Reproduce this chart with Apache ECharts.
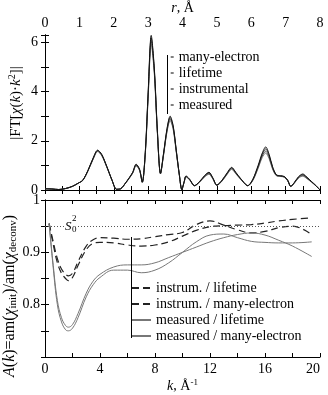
<!DOCTYPE html>
<html>
<head>
<meta charset="utf-8">
<script src="https://cdn.jsdelivr.net/npm/echarts@6/dist/echarts.min.js"></script>
<style>
  html, body { margin: 0; padding: 0; background: #fff; }
  #chart { width: 328px; height: 395px; }
</style>
</head>
<body>
<div id="chart"></div>
<script>
  // top panel: |FT[chi(k) k^2]| vs r
  var rVals = [0, 0.2, 0.4, 0.6, 0.8, 0.97, 1.1, 1.25, 1.4, 1.53, 1.65, 1.8, 1.95, 2.08, 2.2, 2.35, 2.45, 2.55, 2.65, 2.75,
    2.83, 2.92, 3.0, 3.09, 3.18, 3.27, 3.36, 3.45, 3.55, 3.64, 3.73, 3.82, 3.91, 3.98, 4.05, 4.1, 4.2, 4.35, 4.5, 4.65,
    4.77, 4.88, 5.0, 5.15, 5.3, 5.43, 5.55, 5.7, 5.9, 6.05, 6.2, 6.32, 6.42, 6.52, 6.62, 6.73, 6.85, 6.96, 7.06, 7.15,
    7.25, 7.38, 7.5, 7.62, 7.75, 7.88, 8.0]
  var ftManyElectron = [0.05, 0.04, 0.02, 0.06, 0.15, 0.28, 0.4, 0.8, 1.3, 1.62, 1.45, 0.95, 0.4, 0.03, 0.05, 0.3, 0.5, 0.72, 1.05, 0.85,
    0.32, 1.6, 3.95, 6.28, 4.95, 2.4, 0.68, 1.5, 2.5, 3.0, 2.6, 1.6, 0.6, 0.02, 0.35, 0.57, 0.45, 0.18, 0.35, 0.6,
    0.72, 0.5, 0.2, 0.4, 0.7, 0.92, 0.72, 0.45, 0.18, 0.45, 1.0, 1.5, 1.75, 1.45, 0.95, 0.62, 0.58, 0.55, 0.4, 0.15,
    0.3, 0.55, 0.65, 0.52, 0.35, 0.18, 0.0]
  var ftLifetime = [0.05, 0.04, 0.02, 0.06, 0.15, 0.28, 0.4, 0.79, 1.28, 1.6, 1.43, 0.94, 0.4, 0.03, 0.05, 0.3, 0.49, 0.7, 1.02, 0.83,
    0.32, 1.57, 3.88, 6.18, 4.88, 2.36, 0.67, 1.48, 2.46, 2.95, 2.56, 1.58, 0.6, 0.02, 0.34, 0.56, 0.44, 0.18, 0.34, 0.58,
    0.7, 0.49, 0.2, 0.39, 0.68, 0.9, 0.7, 0.44, 0.18, 0.43, 0.96, 1.44, 1.67, 1.39, 0.91, 0.61, 0.57, 0.54, 0.39, 0.15,
    0.29, 0.53, 0.62, 0.5, 0.34, 0.18, 0.0]
  var ftInstrumental = [0.05, 0.04, 0.02, 0.06, 0.15, 0.28, 0.39, 0.78, 1.26, 1.58, 1.41, 0.93, 0.39, 0.03, 0.05, 0.29, 0.48, 0.69, 1.0, 0.81,
    0.31, 1.54, 3.8, 6.05, 4.8, 2.32, 0.66, 1.45, 2.41, 2.88, 2.5, 1.55, 0.59, 0.02, 0.33, 0.54, 0.43, 0.17, 0.33, 0.56,
    0.67, 0.47, 0.19, 0.37, 0.66, 0.87, 0.68, 0.43, 0.17, 0.41, 0.92, 1.38, 1.58, 1.33, 0.88, 0.59, 0.56, 0.53, 0.38, 0.14,
    0.28, 0.51, 0.59, 0.48, 0.33, 0.17, 0.0]
  var ftMeasured = [0.05, 0.04, 0.02, 0.06, 0.15, 0.28, 0.39, 0.77, 1.25, 1.56, 1.4, 0.92, 0.39, 0.03, 0.05, 0.29, 0.47, 0.68, 0.98, 0.8,
    0.31, 1.5, 3.72, 5.92, 4.72, 2.28, 0.65, 1.42, 2.37, 2.82, 2.45, 1.52, 0.58, 0.02, 0.32, 0.53, 0.42, 0.17, 0.32, 0.54,
    0.64, 0.45, 0.19, 0.36, 0.64, 0.84, 0.66, 0.42, 0.17, 0.4, 0.88, 1.32, 1.5, 1.27, 0.85, 0.58, 0.55, 0.52, 0.37, 0.14,
    0.27, 0.49, 0.56, 0.46, 0.32, 0.17, 0.0]
  var topNames = ['many-electron', 'lifetime', 'instrumental', 'measured']

  // bottom panel: A(k) ratios vs k
  var kVals = [0.3, 0.6, 0.9, 1.2, 1.5, 1.7, 2.0, 2.4, 3.0, 3.5, 4, 5, 6, 7, 8, 9, 10, 11, 12, 13, 14, 15, 16, 17, 18, 19.4]
  var instrLifetime = [0.955, 0.915, 0.88, 0.86, 0.85, 0.846, 0.852, 0.875, 0.905, 0.917, 0.919, 0.918, 0.914, 0.912, 0.914, 0.92,
    0.931, 0.942, 0.949, 0.951, 0.952, 0.953, 0.956, 0.96, 0.963, 0.966]
  var instrManyElectron = [0.955, 0.92, 0.888, 0.868, 0.858, 0.855, 0.86, 0.882, 0.912, 0.924, 0.928, 0.927, 0.925, 0.926, 0.93, 0.934,
    0.938, 0.953, 0.96, 0.952, 0.943, 0.937, 0.94, 0.947, 0.95, 0.934]
  var measLifetime = [0.955, 0.875, 0.808, 0.775, 0.76, 0.757, 0.762, 0.783, 0.822, 0.845, 0.858, 0.872, 0.876, 0.876, 0.88, 0.89,
    0.9, 0.91, 0.92, 0.928, 0.934, 0.937, 0.933, 0.923, 0.912, 0.892]
  var measManyElectron = [0.955, 0.87, 0.8, 0.767, 0.752, 0.75, 0.755, 0.775, 0.815, 0.838, 0.852, 0.866, 0.866, 0.861, 0.866, 0.88,
    0.9, 0.92, 0.933, 0.935, 0.928, 0.921, 0.919, 0.918, 0.918, 0.92]
  var bottomNames = ['instrum. / lifetime', 'instrum. / many-electron', 'measured / lifetime', 'measured / many-electron']
  var s0Level = 0.95

  var FONT = 'Liberation Serif'

  function zip(xs, ys) {
    return xs.map(function (x, i) { return [x, ys[i]] })
  }
  function near(a, b) { return Math.abs(a - b) < 1e-6 }

  var chart = echarts.init(document.getElementById('chart'), null, { renderer: 'canvas' })

  var tickStyle = { show: true, inside: true, length: 4, lineStyle: { color: '#000', width: 1 } }
  var lineAxis = { show: true, lineStyle: { color: '#000', width: 1 } }
  var labelStyle = { color: '#000', fontFamily: FONT, fontSize: 14 }

  var topLines = [ftManyElectron, ftLifetime, ftInstrumental, ftMeasured]
  var topColors = ['#111', '#333', '#555', '#777']
  var bottomLines = [instrLifetime, instrManyElectron, measLifetime, measManyElectron]

  var series = []
  topLines.forEach(function (vals, i) {
    series.push({
      name: topNames[i],
      type: 'line',
      xAxisIndex: 0,
      yAxisIndex: 0,
      data: zip(rVals, vals),
      smooth: 0.3,
      symbol: 'none',
      color: topColors[i],
      lineStyle: { color: topColors[i], width: 1 },
      z: 4 - i
    })
  })
  bottomLines.forEach(function (vals, i) {
    var dashed = i < 2
    var col = dashed ? '#222' : '#777'
    var s = {
      name: bottomNames[i],
      type: 'line',
      xAxisIndex: 2,
      yAxisIndex: 2,
      data: zip(kVals, vals),
      smooth: 0.4,
      symbol: 'none',
      color: col,
      lineStyle: dashed
        ? { color: col, width: 1.2, type: [7, 4] }
        : { color: col, width: 1, type: 'solid' }
    }
    if (i === 0) {
      s.markLine = {
        silent: true,
        symbol: 'none',
        label: { show: false },
        lineStyle: { color: '#555', type: [1, 2], width: 1 },
        data: [{ yAxis: s0Level }]
      }
    }
    series.push(s)
  })

  var option = {
    animation: false,
    textStyle: { fontFamily: FONT },
    grid: [
      { left: 45, width: 275, top: 32, height: 158 },
      { left: 45, width: 275, top: 200, height: 158 }
    ],
    xAxis: [
      {
        gridIndex: 0, type: 'value', position: 'top', min: 0, max: 8, interval: 0.5,
        axisLine: lineAxis, axisTick: tickStyle, splitLine: { show: false },
        axisLabel: Object.assign({ margin: 5, formatter: function (v) { return near(v, Math.round(v)) ? String(Math.round(v)) : '' } }, labelStyle),
        name: '{i|r}, Å', nameLocation: 'middle', nameGap: 17,
        nameTextStyle: { color: '#000', fontFamily: FONT, fontSize: 14, rich: { i: { fontStyle: 'italic', fontFamily: FONT, fontSize: 14 } } }
      },
      {
        gridIndex: 0, type: 'value', position: 'bottom', min: 0, max: 8, interval: 0.5,
        axisLine: lineAxis, axisTick: tickStyle, splitLine: { show: false }, axisLabel: { show: false }
      },
      {
        gridIndex: 1, type: 'value', position: 'bottom', min: 0, max: 20, interval: 2,
        axisLine: lineAxis, axisTick: tickStyle, splitLine: { show: false },
        axisLabel: Object.assign({ margin: 5, alignMaxLabel: 'right', formatter: function (v) { return near(v % 4, 0) ? String(v) : '' } }, labelStyle),
        name: '{i|k}, Å{sup|-1}', nameLocation: 'middle', nameGap: 21,
        nameTextStyle: {
          color: '#000', fontFamily: FONT, fontSize: 14, lineHeight: 16,
          rich: {
            i: { fontStyle: 'italic', fontFamily: FONT, fontSize: 14, lineHeight: 16 },
            sup: { fontFamily: FONT, fontSize: 9, lineHeight: 9, verticalAlign: 'top' }
          }
        }
      },
      {
        gridIndex: 1, type: 'value', position: 'top', min: 0, max: 20, interval: 2,
        axisLine: lineAxis, axisTick: tickStyle, splitLine: { show: false }, axisLabel: { show: false }
      }
    ],
    yAxis: [
      {
        gridIndex: 0, type: 'value', position: 'left', min: 0, max: 6.3, interval: 1,
        axisLine: lineAxis, axisTick: tickStyle, splitLine: { show: false },
        axisLabel: Object.assign({ margin: 7, formatter: function (v) { return (near(v, Math.round(v)) && Math.round(v) % 2 === 0) ? String(Math.round(v)) : '' } }, labelStyle)
      },
      {
        gridIndex: 0, type: 'value', position: 'right', min: 0, max: 6.3, interval: 1,
        axisLine: lineAxis, axisTick: tickStyle, splitLine: { show: false }, axisLabel: { show: false }
      },
      {
        gridIndex: 1, type: 'value', position: 'left', min: 0.7, max: 1.0, interval: 0.05,
        axisLine: lineAxis, axisTick: tickStyle, splitLine: { show: false },
        axisLabel: Object.assign({
          margin: 5,
          formatter: function (v) {
            if (near(v, 1)) return '1'
            if (near(v, 0.9) || near(v, 0.8)) return v.toFixed(1)
            return ''
          }
        }, labelStyle)
      },
      {
        gridIndex: 1, type: 'value', position: 'right', min: 0.7, max: 1.0, interval: 0.05,
        axisLine: lineAxis, axisTick: tickStyle, splitLine: { show: false }, axisLabel: { show: false }
      }
    ],
    legend: [
      {
        data: topNames, orient: 'vertical', left: 167, top: 50,
        itemWidth: 3, itemHeight: 13, itemGap: 2, padding: 0,
        selectedMode: false,
        itemStyle: { opacity: 0 },
        lineStyle: { color: '#000', width: 1, type: 'solid' },
        textStyle: { color: '#000', fontFamily: FONT, fontSize: 14 }
      },
      {
        data: bottomNames, orient: 'vertical', left: 131, top: 281,
        itemWidth: 19, itemHeight: 13, itemGap: 2, padding: 0,
        selectedMode: false,
        itemStyle: { opacity: 0 },
        textStyle: { color: '#000', fontFamily: FONT, fontSize: 14 }
      }
    ],
    graphic: [
      // legend brackets
      { type: 'line', shape: { x1: 167.5, y1: 55, x2: 167.5, y2: 114 }, style: { stroke: '#000', lineWidth: 1 }, z: 10 },
      { type: 'line', shape: { x1: 131.5, y1: 237, x2: 131.5, y2: 338 }, style: { stroke: '#000', lineWidth: 1 }, z: 10 },
      // S0^2 label
      { type: 'text', x: 65, y: 227, z: 10,
        style: { text: 'S', font: 'italic 13px "Liberation Serif"', fill: '#000', verticalAlign: 'middle', textVerticalAlign: 'middle', backgroundColor: '#fff' } },
      { type: 'text', x: 72, y: 219, z: 10,
        style: { text: '2', font: '9px "Liberation Serif"', fill: '#000', verticalAlign: 'middle', textVerticalAlign: 'middle', backgroundColor: '#fff' } },
      { type: 'text', x: 72, y: 230, z: 10,
        style: { text: '0', font: '9px "Liberation Serif"', fill: '#000', verticalAlign: 'middle', textVerticalAlign: 'middle', backgroundColor: '#fff' } },
      // y axis names
      { type: 'text', x: 16, y: 103, rotation: Math.PI / 2, z: 10,
        style: {
          text: '|FT[{i|χ}({i|k})·{i|k}{sup|2}]|',
          font: '15px "Liberation Serif"', fill: '#000',
          align: 'center', verticalAlign: 'middle', textAlign: 'center', textVerticalAlign: 'middle',
          lineHeight: 17,
          rich: {
            i: { font: 'italic 15px "Liberation Serif"', lineHeight: 17 },
            sup: { font: '10px "Liberation Serif"', lineHeight: 10, verticalAlign: 'top' }
          }
        } },
      { type: 'text', x: 10, y: 296, rotation: Math.PI / 2, z: 10,
        style: {
          text: '{i|A}({i|k})=am({i|χ}{sub|init})/am({i|χ}{sub|deconv})',
          font: '16px "Liberation Serif"', fill: '#000',
          align: 'center', verticalAlign: 'middle', textAlign: 'center', textVerticalAlign: 'middle',
          lineHeight: 18,
          rich: {
            i: { font: 'italic 16px "Liberation Serif"', lineHeight: 18 },
            sub: { font: '11px "Liberation Serif"', lineHeight: 11, verticalAlign: 'bottom' }
          }
        } }
    ],
    series: series
  }

  chart.setOption(option)
</script>
</body>
</html>
